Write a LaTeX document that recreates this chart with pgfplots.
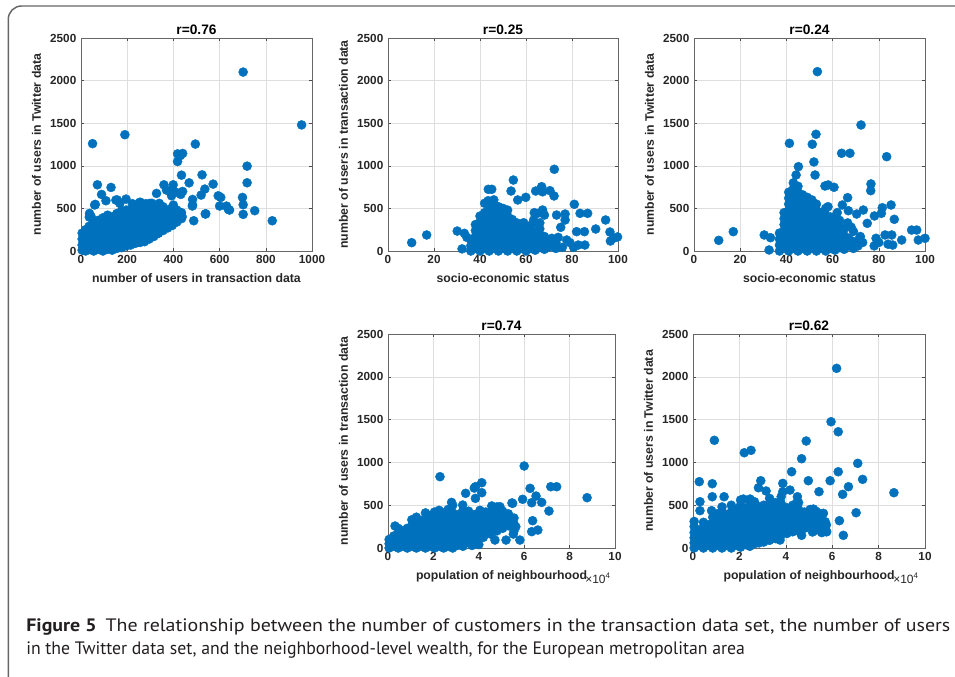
\documentclass[border=0pt]{standalone}
\usepackage{fontspec}
\setmainfont{Liberation Sans}
\newfontfamily\capfont{PT Sans}
\usepackage{graphicx}
\usepackage{pgfplots}
\usepackage{pgfplotstable}
\pgfplotsset{compat=1.18}
\definecolor{mblue}{RGB}{0,114,189}
\definecolor{captxt}{RGB}{35,31,32}

\pgfplotsset{mat/.style={
  scale only axis, clip=false,
  ymin=0, ymax=2500, ytick={0,500,1000,1500,2000,2500},
  grid=major, major grid style={draw=black!13, line width=0.4pt},
  axis line style={draw=black!60, line width=0.5pt},
  tick style={draw=black!70, line width=0.4pt}, tick align=inside, major tick length=2.2pt,
  ticklabel style={font=\bfseries\fontsize{8.8}{10}\selectfont, text=black!85},
  label style={font=\bfseries\fontsize{9.2}{10}\selectfont, text=black!85},
  title style={font=\bfseries\fontsize{10.3}{12}\selectfont, at={(0.5,1)}, anchor=base, yshift=-3.5pt},
  /pgf/number format/assume math mode=true, /pgf/number format/1000 sep={},
  scaled ticks=false,
},
dots/.style={only marks, mark=*, mark size=3.4pt, mark options={draw=mblue, fill=mblue, line width=0.3pt}}
}

\begin{document}
% transaction users (x) vs Twitter users (y)
\pgfplotstableread[row sep=\\]{x y\\
702 2100\\ 955 1480\\ 190 1365\\ 50 1260\\ 495 1255\\ 418 1140\\ 440 1145\\ 418 1050\\ 430 1120\\
435 890\\ 524 894\\ 719 996\\ 719 801\\ 699 629\\ 702 543\\ 702 430\\ 752 473\\ 828 355\\ 638 488\\
630 527\\ 594 648\\ 605 629\\ 572 785\\ 536 727\\ 520 656\\ 540 437\\ 488 355\\ 483 539\\ 483 605\\
468 800\\ 432 664\\ 440 699\\ 399 777\\ 359 777\\ 370 715\\ 327 676\\ 392 648\\ 71 777\\ 89 664\\
130 746\\ 108 590\\ 62 547\\ 151 598\\ 195 609\\ 37 441\\ 36 398\\ 168 559\\ 258 570\\ 298 559\\
281 555\\ 223 555\\ 339 559\\ 405 453\\ 438 402\\ 353 344\\ 334 207\\ 262 129\\ 400 539\\ 157 599\\
254 571\\ 307 560\\ 59 540\\ 44 403\\ 600 528\\ 643 481\\ 538 434\\ 482 528\\ 410 690\\ 385 700\\
5 10\\ 5 70\\ 5 140\\ 5 210\\
20 0\\ 20 50\\ 20 110\\ 20 180\\ 20 250\\
35 20\\ 35 80\\ 35 150\\ 35 220\\ 35 290\\
55 0\\ 55 60\\ 55 120\\ 55 190\\ 55 260\\ 55 330\\
75 20\\ 75 90\\ 75 160\\ 75 230\\ 75 300\\ 75 360\\
95 0\\ 95 50\\ 95 120\\ 95 190\\ 95 260\\ 95 330\\ 95 390\\
115 20\\ 115 80\\ 115 150\\ 115 220\\ 115 290\\ 115 360\\ 115 420\\
135 10\\ 135 60\\ 135 120\\ 135 190\\ 135 260\\ 135 330\\ 135 400\\
155 30\\ 155 90\\ 155 160\\ 155 230\\ 155 300\\ 155 370\\ 155 440\\
175 40\\ 175 110\\ 175 180\\ 175 250\\ 175 320\\ 175 390\\ 175 470\\
195 60\\ 195 130\\ 195 200\\ 195 270\\ 195 340\\ 195 410\\ 195 480\\
215 70\\ 215 140\\ 215 210\\ 215 280\\ 215 350\\ 215 420\\ 215 490\\
235 90\\ 235 160\\ 235 230\\ 235 300\\ 235 370\\ 235 440\\ 235 510\\
255 100\\ 255 170\\ 255 240\\ 255 310\\ 255 380\\ 255 450\\ 255 520\\
275 110\\ 275 180\\ 275 250\\ 275 320\\ 275 390\\ 275 460\\ 275 520\\
295 140\\ 295 210\\ 295 280\\ 295 350\\ 295 420\\ 295 490\\
315 170\\ 315 240\\ 315 310\\ 315 380\\ 315 450\\ 315 510\\
335 210\\ 335 280\\ 335 350\\ 335 420\\ 335 490\\
355 240\\ 355 310\\ 355 380\\ 355 450\\ 355 520\\
375 270\\ 375 340\\ 375 410\\ 375 480\\
395 300\\ 395 370\\ 395 440\\ 395 510\\
415 340\\ 415 410\\ 415 480\\
435 380\\ 435 450\\
}\tabA

% socio-economic status (x) vs transaction users (y)
\pgfplotstableread[row sep=\\]{x y\\
10.3 98\\ 16.8 188\\ 30.1 234\\ 32.2 25\\ 33.2 207\\ 34.3 160\\ 72.3 959\\ 54.5 833\\ 43.6 724\\
45.1 724\\ 53.5 704\\ 64.2 704\\ 66.8 755\\ 67.2 695\\ 70.4 708\\ 72.2 646\\ 56.4 599\\ 59.9 630\\
43.5 590\\ 46 600\\ 81 548\\ 83.5 442\\ 86.8 442\\ 73.3 422\\ 77 434\\ 77 364\\ 67.2 481\\ 68 422\\
63.6 450\\ 75.1 278\\ 82 227\\ 85.4 227\\ 90.3 258\\ 94.6 364\\ 96.5 223\\ 99.8 165\\ 98 150\\
96.7 117\\ 71.2 149\\ 74 160\\ 77.7 129\\ 79.1 98\\ 82.7 70\\ 85.6 70\\ 75.8 43\\ 72 51\\ 80.7 43\\
68 120\\ 63.3 363\\ 64.8 441\\ 59 332\\ 61 246\\ 57.5 273\\ 60 180\\ 54.6 129\\ 42 560\\ 48 520\\
50 500\\ 62 300\\ 66 330\\
36 0\\ 36 60\\ 36 130\\
38 30\\ 38 100\\ 38 170\\ 38 240\\ 38 310\\
40 0\\ 40 60\\ 40 130\\ 40 200\\ 40 270\\ 40 340\\ 40 410\\
42 30\\ 42 100\\ 42 170\\ 42 240\\ 42 310\\ 42 380\\ 42 450\\
44 0\\ 44 60\\ 44 130\\ 44 200\\ 44 270\\ 44 340\\ 44 410\\ 44 480\\ 44 550\\
46 30\\ 46 100\\ 46 170\\ 46 240\\ 46 310\\ 46 380\\ 46 450\\ 46 520\\
48 0\\ 48 60\\ 48 130\\ 48 200\\ 48 270\\ 48 340\\ 48 410\\ 48 470\\
50 30\\ 50 100\\ 50 170\\ 50 240\\ 50 310\\ 50 380\\ 50 450\\
52 0\\ 52 60\\ 52 130\\ 52 200\\ 52 270\\ 52 340\\ 52 410\\ 52 480\\
54 30\\ 54 100\\ 54 170\\ 54 240\\ 54 310\\ 54 370\\
56 0\\ 56 60\\ 56 130\\ 56 200\\ 56 270\\ 56 330\\
58 30\\ 58 100\\ 58 170\\ 58 240\\ 58 300\\
60 0\\ 60 60\\ 60 130\\ 60 200\\ 60 280\\
62 30\\ 62 100\\ 62 170\\ 62 250\\
64 10\\ 64 70\\ 64 140\\ 64 220\\ 64 330\\
66 40\\ 66 110\\ 66 190\\ 66 260\\
68 20\\ 68 90\\ 68 170\\
70 50\\ 70 120\\
73 30\\ 73 100\\
}\tabB

% socio-economic status (x) vs Twitter users (y)
\pgfplotstableread[row sep=\\]{x y\\
53.4 2105\\ 72.3 1479\\ 41.3 1264\\ 52.8 1370\\ 51.2 1253\\ 63.9 1147\\ 67.5 1147\\ 83.4 1107\\
51.9 1045\\ 45.2 990\\ 44.2 892\\ 52.4 892\\ 56.7 763\\ 58.1 775\\ 60.6 748\\ 76.6 787\\ 76.5 708\\
66.5 626\\ 64.2 540\\ 66.8 473\\ 70.4 434\\ 73.3 481\\ 81.5 508\\ 85.3 540\\ 78.1 411\\ 81.1 442\\
86.7 372\\ 75 325\\ 30.4 188\\ 17 227\\ 10.7 125\\ 32.5 12\\ 33.1 156\\ 71.5 140\\ 73 100\\ 72 170\\
78.8 149\\ 82.7 188\\ 85.6 188\\ 89.9 129\\ 94.2 246\\ 96.4 246\\ 97.1 129\\ 100 149\\ 84 80\\
80 100\\ 78 60\\ 86 70\\ 70.5 70\\ 62 450\\ 60.5 380\\ 58 520\\ 66.5 330\\ 68 280\\ 69 230\\
37 0\\ 37 70\\ 37 140\\ 37 210\\
39 30\\ 39 100\\ 39 170\\ 39 240\\ 39 310\\ 39 380\\ 39 450\\
41 0\\ 41 60\\ 41 130\\ 41 200\\ 41 270\\ 41 340\\ 41 410\\ 41 480\\ 41 550\\ 41 620\\ 41 690\\
43 30\\ 43 100\\ 43 170\\ 43 240\\ 43 310\\ 43 380\\ 43 450\\ 43 520\\ 43 590\\ 43 660\\ 43 730\\ 43 800\\
45 0\\ 45 60\\ 45 130\\ 45 200\\ 45 270\\ 45 340\\ 45 410\\ 45 480\\ 45 550\\ 45 620\\ 45 690\\ 45 760\\
47 30\\ 47 100\\ 47 170\\ 47 240\\ 47 310\\ 47 380\\ 47 450\\ 47 520\\ 47 590\\ 47 660\\
49 0\\ 49 60\\ 49 130\\ 49 200\\ 49 270\\ 49 340\\ 49 410\\ 49 480\\ 49 550\\ 49 630\\
51 30\\ 51 100\\ 51 170\\ 51 240\\ 51 310\\ 51 380\\ 51 450\\ 51 520\\ 51 600\\
53 0\\ 53 60\\ 53 130\\ 53 200\\ 53 270\\ 53 340\\ 53 410\\ 53 480\\ 53 550\\
55 30\\ 55 100\\ 55 170\\ 55 240\\ 55 310\\ 55 380\\ 55 450\\
57 0\\ 57 60\\ 57 130\\ 57 200\\ 57 270\\ 57 340\\ 57 420\\ 57 500\\
59 30\\ 59 100\\ 59 170\\ 59 240\\ 59 320\\ 59 400\\
61 10\\ 61 80\\ 61 150\\ 61 230\\ 61 300\\
63 40\\ 63 120\\ 63 200\\ 63 280\\ 63 360\\
65 20\\ 65 100\\ 65 180\\ 65 260\\
67 60\\ 67 150\\
69 30\\ 69 110\\
71 60\\
}\tabC

% population /10^4 (x) vs transaction users (y)
\pgfplotstableread[row sep=\\]{x y\\
6.0 958\\ 2.29 833\\ 7.17 716\\ 7.43 716\\ 8.77 588\\ 6.26 697\\ 6.52 607\\ 6.77 533\\ 6.33 529\\
5.93 569\\ 5.49 522\\ 7.09 432\\ 6.37 319\\ 6.33 191\\ 6.6 210\\ 5.81 93\\ 5.2 93\\ 4.71 93\\ 4.2 125\\
5.52 163\\ 5.63 249\\ 4.13 646\\ 4.13 763\\ 3.8 700\\ 3.86 717\\ 3.42 639\\ 3.85 580\\ 3.29 502\\
2.8 533\\ 0.31 257\\ 5.46 526\\ 4.93 483\\ 4.57 491\\ 4.0 40\\ 3.7 30\\
0.05 0\\ 0.05 50\\ 0.05 100\\
0.25 20\\ 0.25 80\\ 0.25 140\\
0.45 0\\ 0.45 50\\ 0.45 110\\ 0.45 170\\ 0.45 230\\
0.65 20\\ 0.65 80\\ 0.65 140\\ 0.65 200\\
0.85 0\\ 0.85 50\\ 0.85 110\\ 0.85 170\\ 0.85 230\\
1.05 20\\ 1.05 80\\ 1.05 140\\ 1.05 200\\ 1.05 260\\ 1.05 330\\
1.25 0\\ 1.25 50\\ 1.25 110\\ 1.25 170\\ 1.25 230\\ 1.25 290\\ 1.25 360\\
1.45 20\\ 1.45 80\\ 1.45 140\\ 1.45 200\\ 1.45 260\\ 1.45 320\\
1.65 0\\ 1.65 50\\ 1.65 110\\ 1.65 170\\ 1.65 230\\ 1.65 290\\ 1.65 350\\ 1.65 410\\
1.85 20\\ 1.85 80\\ 1.85 140\\ 1.85 200\\ 1.85 260\\ 1.85 320\\ 1.85 380\\
2.05 0\\ 2.05 50\\ 2.05 110\\ 2.05 170\\ 2.05 230\\ 2.05 290\\ 2.05 350\\ 2.05 420\\
2.25 20\\ 2.25 80\\ 2.25 140\\ 2.25 200\\ 2.25 260\\ 2.25 320\\ 2.25 380\\ 2.25 440\\
2.45 0\\ 2.45 50\\ 2.45 110\\ 2.45 170\\ 2.45 230\\ 2.45 290\\ 2.45 350\\ 2.45 410\\
2.65 20\\ 2.65 80\\ 2.65 140\\ 2.65 200\\ 2.65 260\\ 2.65 320\\ 2.65 380\\ 2.65 450\\
2.85 0\\ 2.85 50\\ 2.85 110\\ 2.85 170\\ 2.85 230\\ 2.85 290\\ 2.85 350\\ 2.85 410\\ 2.85 500\\
3.05 30\\ 3.05 90\\ 3.05 150\\ 3.05 210\\ 3.05 270\\ 3.05 330\\ 3.05 390\\
3.3 20\\ 3.3 80\\ 3.3 140\\ 3.3 200\\ 3.3 260\\ 3.3 320\\ 3.3 380\\ 3.3 440\\
3.55 60\\ 3.55 120\\ 3.55 180\\ 3.55 240\\ 3.55 300\\ 3.55 360\\ 3.55 430\\
3.8 90\\ 3.8 150\\ 3.8 210\\ 3.8 270\\ 3.8 330\\ 3.8 390\\
4.05 130\\ 4.05 190\\ 4.05 250\\ 4.05 310\\ 4.05 370\\ 4.05 440\\
4.3 170\\ 4.3 230\\ 4.3 290\\ 4.3 350\\ 4.3 420\\
4.55 160\\ 4.55 220\\ 4.55 280\\ 4.55 340\\ 4.55 410\\
4.8 200\\ 4.8 260\\ 4.8 320\\ 4.8 400\\ 4.8 480\\
5.05 230\\ 5.05 290\\ 5.05 360\\ 5.05 430\\
5.3 260\\ 5.3 330\\ 5.3 400\\
5.55 200\\ 5.55 280\\ 5.55 350\\
}\tabD

% population /10^4 (x) vs Twitter users (y)
\pgfplotstableread[row sep=\\]{x y\\
6.19 2099\\ 5.95 1475\\ 6.26 1358\\ 0.92 1258\\ 4.88 1250\\ 2.21 1113\\ 2.5 1141\\ 4.68 1043\\
7.1 989\\ 4.25 891\\ 6.26 891\\ 7.31 802\\ 4.97 786\\ 5.91 786\\ 6.7 716\\ 6.45 627\\ 8.66 646\\
7.03 412\\ 6.31 319\\ 6.48 148\\ 5.43 658\\ 0.27 775\\ 0.83 751\\ 0.83 599\\ 0.3 541\\ 0.3 436\\
0.8 436\\ 1.34 599\\ 2.92 786\\ 2.82 704\\ 3.15 666\\ 3.87 755\\ 3.87 658\\ 4.18 677\\ 4.5 541\\
4.5 599\\ 3.75 93\\ 5.19 455\\ 5.62 405\\ 5.7 307\\ 5.76 191\\ 5.57 187\\ 5.15 187\\ 5.47 300\\
5.4 409\\ 4.68 148\\ 4.86 350\\ 5.04 331\\ 2.17 572\\ 2.46 572\\ 4.73 288\\
0.05 0\\ 0.05 60\\ 0.05 120\\ 0.05 180\\ 0.05 250\\ 0.05 310\\
0.25 30\\ 0.25 90\\ 0.25 150\\ 0.25 210\\
0.45 0\\ 0.45 60\\ 0.45 120\\ 0.45 180\\ 0.45 240\\ 0.45 300\\
0.65 30\\ 0.65 90\\ 0.65 150\\ 0.65 210\\ 0.65 270\\
0.85 0\\ 0.85 60\\ 0.85 120\\ 0.85 180\\ 0.85 240\\ 0.85 300\\ 0.85 360\\
1.05 30\\ 1.05 90\\ 1.05 150\\ 1.05 210\\ 1.05 270\\ 1.05 330\\ 1.05 400\\
1.25 0\\ 1.25 60\\ 1.25 120\\ 1.25 180\\ 1.25 240\\ 1.25 300\\ 1.25 360\\ 1.25 430\\ 1.25 480\\
1.45 30\\ 1.45 90\\ 1.45 150\\ 1.45 210\\ 1.45 270\\ 1.45 330\\ 1.45 390\\
1.65 0\\ 1.65 60\\ 1.65 120\\ 1.65 180\\ 1.65 240\\ 1.65 300\\ 1.65 360\\ 1.65 420\\ 1.65 500\\
1.85 30\\ 1.85 90\\ 1.85 150\\ 1.85 210\\ 1.85 270\\ 1.85 330\\ 1.85 390\\ 1.85 450\\
2.05 10\\ 2.05 70\\ 2.05 130\\ 2.05 190\\ 2.05 250\\ 2.05 310\\ 2.05 370\\ 2.05 430\\ 2.05 500\\ 2.05 560\\
2.25 40\\ 2.25 100\\ 2.25 160\\ 2.25 220\\ 2.25 280\\ 2.25 340\\ 2.25 400\\ 2.25 460\\
2.45 20\\ 2.45 80\\ 2.45 140\\ 2.45 200\\ 2.45 260\\ 2.45 320\\ 2.45 380\\ 2.45 440\\ 2.45 510\\
2.65 50\\ 2.65 110\\ 2.65 170\\ 2.65 230\\ 2.65 290\\ 2.65 350\\ 2.65 410\\ 2.65 470\\ 2.65 540\\
2.85 60\\ 2.85 120\\ 2.85 180\\ 2.85 240\\ 2.85 300\\ 2.85 360\\ 2.85 420\\ 2.85 480\\
3.05 70\\ 3.05 130\\ 3.05 190\\ 3.05 250\\ 3.05 310\\ 3.05 370\\ 3.05 430\\ 3.05 500\\
3.3 90\\ 3.3 150\\ 3.3 210\\ 3.3 270\\ 3.3 330\\ 3.3 390\\ 3.3 450\\ 3.3 520\\ 3.3 580\\
3.55 110\\ 3.55 170\\ 3.55 230\\ 3.55 290\\ 3.55 350\\ 3.55 410\\ 3.55 470\\ 3.55 530\\
3.8 150\\ 3.8 210\\ 3.8 270\\ 3.8 330\\ 3.8 390\\ 3.8 450\\ 3.8 520\\ 3.8 600\\
4.05 170\\ 4.05 230\\ 4.05 290\\ 4.05 350\\ 4.05 410\\ 4.05 470\\
4.3 190\\ 4.3 250\\ 4.3 310\\ 4.3 370\\ 4.3 430\\ 4.3 500\\
4.55 200\\ 4.55 260\\ 4.55 320\\ 4.55 380\\ 4.55 450\\ 4.55 530\\
4.8 230\\ 4.8 290\\ 4.8 350\\ 4.8 420\\
5.05 250\\ 5.05 320\\ 5.05 390\\ 5.05 450\\
5.3 210\\ 5.3 280\\ 5.3 350\\ 5.3 430\\
5.55 180\\ 5.55 260\\ 5.55 320\\
5.75 190\\ 5.75 270\\
}\tabE

\begin{tikzpicture}
\useasboundingbox (0,0) rectangle (716.25pt,507pt);
\draw[line width=1.1pt, draw=black!60, rounded corners=10pt] (6.2pt,-12pt) rectangle (735pt,502.5pt);

\begin{axis}[mat, at={(60.75pt,318.75pt)}, anchor=south west, width=173.25pt, height=159.75pt,
  xmin=0, xmax=1000, xtick={0,200,400,600,800,1000},
  title={r=0.76}, xlabel={number of users in transaction data}, ylabel={number of users in Twitter data}]
\addplot[dots] table[x=x,y=y]{\tabA};
\end{axis}

\begin{axis}[mat, at={(291pt,318.75pt)}, anchor=south west, width=172.5pt, height=159.75pt,
  xmin=0, xmax=100, xtick={0,20,40,60,80,100},
  title={r=0.25}, xlabel={socio-economic status}, ylabel={number of users in transaction data}]
\addplot[dots] table[x=x,y=y]{\tabB};
\end{axis}

\begin{axis}[mat, at={(520.5pt,318.75pt)}, anchor=south west, width=173.25pt, height=159.75pt,
  xmin=0, xmax=100, xtick={0,20,40,60,80,100},
  title={r=0.24}, xlabel={socio-economic status}, ylabel={number of users in Twitter data}]
\addplot[dots] table[x=x,y=y]{\tabC};
\end{axis}

\begin{axis}[mat, at={(291pt,96pt)}, anchor=south west, width=170.25pt, height=160.5pt,
  xmin=0, xmax=10, xtick={0,2,4,6,8,10},
  title={r=0.74}, xlabel={population of neighbourhood}, ylabel={number of users in transaction data}]
\addplot[dots] table[x=x,y=y]{\tabD};
\node[anchor=base west, inner sep=0pt, text=black!85, font=\fontsize{9}{10}\selectfont]
  at (rel axis cs:0.868,0) [yshift=-26.5pt] {×10\textsuperscript{4}};
\end{axis}

\begin{axis}[mat, at={(519.75pt,96pt)}, anchor=south west, width=174pt, height=160.5pt,
  xmin=0, xmax=10, xtick={0,2,4,6,8,10},
  title={r=0.62}, xlabel={population of neighbourhood}, ylabel={number of users in Twitter data}]
\addplot[dots] table[x=x,y=y]{\tabE};
\node[anchor=base west, inner sep=0pt, text=black!85, font=\fontsize{9}{10}\selectfont]
  at (rel axis cs:0.862,0) [yshift=-26.5pt] {×10\textsuperscript{4}};
\end{axis}

\node[anchor=base west, inner sep=0pt, text=captxt, font=\capfont\fontsize{13.5}{16}\selectfont]
  at (19.5pt,33.75pt) {\resizebox{693pt}{\height}{\textbf{Figure 5}\hspace{0.45em}The relationship between the number of customers in the transaction data set, the number of users}};
\node[anchor=base west, inner sep=0pt, text=captxt, font=\capfont\fontsize{13.5}{16}\selectfont]
  at (19.5pt,16.5pt) {\resizebox{539pt}{\height}{in the Twitter data set, and the neighborhood-level wealth, for the European metropolitan area}};
\end{tikzpicture}
\end{document}
